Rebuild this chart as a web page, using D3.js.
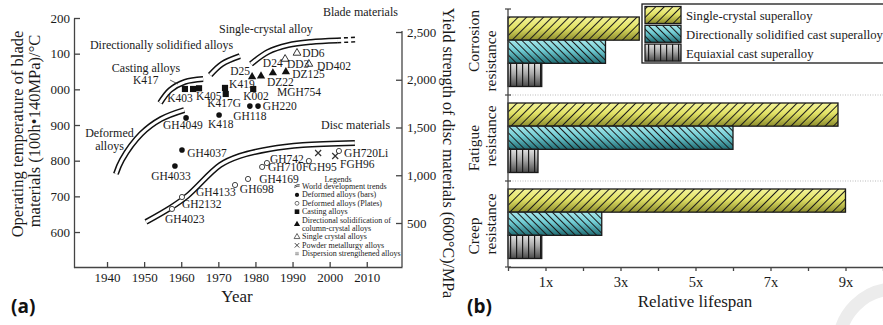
<!DOCTYPE html>
<html>
<head>
<meta charset="utf-8">
<script src="https://cdn.jsdelivr.net/npm/d3@7"></script>
<style>
  body { margin: 0; background: #fff; }
  svg { display: block; }
  svg text { font-family: "Liberation Serif", "Times New Roman", serif; }
  svg text.tag { font-family: "Open Sans", "Liberation Sans", sans-serif; }
</style>
</head>
<body>
<div id="chart"></div>
<script>
// ---------- panel (a): development of blade / disc materials ----------
const yearTicks = [1940, 1950, 1960, 1970, 1980, 1990, 2000, 2010];
const tempTicks = [600, 700, 800, 900, 1000, 1100, 1200];
const yieldTicks = [500, 1000, 1500, 2000, 2500];

// world development trends, [year, value]
const trendDeformed = [[1942.4, 763], [1944.0, 802], [1949.2, 875], [1954.6, 917], [1960.8, 942]];
const trendCasting = [[1954.3, 962], [1957.0, 998], [1961.0, 1021], [1965.9, 1029]];
const trendDirectional = [[1967.8, 1040], [1971.0, 1071], [1975.8, 1093]];
const trendSingleCrystal = [[1978.8, 1071], [1983.4, 1105], [1988.8, 1124], [1995.0, 1133], [2002.0, 1137]];
const trendSingleCrystalNext = [[2002.0, 1137], [2007.4, 1140]];
const trendDisc = [[1950.5, 511], [1957.0, 657], [1961.6, 783], [1970.5, 1107], [1975.8, 1202], [1983.9, 1275], [1992.8, 1317], [2006.8, 1338]];

// blade alloys (temperature, °C)
const castingAlloys = [[1961.0, 1001], [1963.2, 1001], [1964.8, 1003], [1971.8, 1004], [1972.0, 987], [1979.4, 1001]];
const deformedBars = [[1961.3, 920], [1970.2, 928], [1960.2, 830], [1958.3, 785], [1978.5, 953], [1980.7, 953]];
const directionalAlloys = [[1979.1, 1035], [1981.5, 1037], [1984.7, 1046], [1988.2, 1049]];
const singleCrystalAlloys = [[1991.2, 1102], [1988.0, 1085], [1994.4, 1071]];
// disc alloys (yield strength, MPa)
const deformedPlates = [[1957.5, 647], [1960.2, 772], [1974.5, 898], [1978.0, 961], [1981.8, 1087], [1983.1, 1128], [1994.4, 1149], [2002.5, 1254]];
const powderAlloys = [[1996.9, 1233], [2001.5, 1202]];

const bladeLabels = [
  ["K417", 1947.0, 1015], ["K403", 1956.2, 964], ["K405", 1964.0, 970], ["K419", 1972.9, 1004],
  ["K417G", 1967.0, 950], ["K002", 1976.7, 970], ["GH4049", 1955.1, 889], ["K418", 1967.2, 892],
  ["GH4037", 1961.6, 810], ["GH4033", 1951.9, 746], ["GH220", 1982.0, 942], ["GH118", 1974.0, 914],
  ["D25", 1973.2, 1040], ["D24", 1982.0, 1063], ["DZ22", 1983.1, 1009], ["DZ125", 1989.9, 1032],
  ["MGH754", 1985.8, 981], ["DD6", 1992.6, 1091], ["DD3", 1988.5, 1060], ["DD402", 1996.6, 1054]
];
const discLabels = [
  ["GH4023", 1955.6, 500], ["GH2132", 1960.2, 657], ["GH4133", 1964.0, 782], ["GH698", 1975.8, 814],
  ["GH4169", 1981.0, 919], ["GH742", 1983.9, 1128], ["GH710", 1983.4, 1045], ["FGH95", 1992.6, 1045],
  ["GH720Li", 2003.9, 1191], ["FGH96", 2002.8, 1076]
];
const regionLabels = [
  ["Blade materials", 1998.2, 1205], ["Single-crystal alloy", 1970.2, 1158],
  ["Directionally solidified alloys", 1935.4, 1113], ["Casting alloys", 1941.3, 1049],
  ["Deformed", 1934.1, 866], ["alloys", 1936.8, 830], ["Disc materials", 1997.7, 889]
];
const legendEntries = [
  ["trend", "World development trends"], ["bar", "Deformed alloys (bars)"],
  ["plate", "Deformed alloys (Plates)"], ["cast", "Casting alloys"],
  ["ds", "Directional solidification of", "column-crystal alloys"], ["sx", "Single crystal alloys"],
  ["pm", "Powder metallurgy alloys"], ["ods", "Dispersion strengthened alloys"]
];

// ---------- panel (b): relative lifespan ----------
const properties = ["Corrosion resistance", "Fatigue resistance", "Creep resistance"];
const alloyTypes = ["Single-crystal superalloy", "Directionally solidified cast superalloy", "Equiaxial cast superalloy"];
const singleCrystalLife = [3.5, 8.8, 9.0];
const directionalLife = [2.6, 6.0, 2.5];
const equiaxialLife = [0.9, 0.8, 0.9];
const lifeTicks = [1, 3, 5, 7, 9];

const W = 883, H = 325;
const ink = '#1a1a1a';
const serif = '"Liberation Serif", "Times New Roman", serif';

const svg = d3.select('#chart').append('svg')
  .attr('width', W)
  .attr('height', H);

const defs = svg.append('defs');

// ================= panel (a) =================
const xYear = d3.scaleLinear().domain([1931.1, 2019.5]).range([74, 402]);
const yTemp = d3.scaleLinear().domain([500, 1200]).range([267.7, 18]);
const yYield = d3.scaleLinear().domain([500, 2500]).range([223, 32]);

const gA = svg.append('g').attr('class', 'panel-a');

const styleAxis = g => {
  g.attr('font-family', serif).attr('font-size', 13);
  g.selectAll('.domain, .tick line').attr('stroke', '#444').attr('stroke-width', 1.3);
  g.selectAll('text').attr('fill', ink).attr('font-family', serif);
};

gA.append('g')
  .attr('transform', 'translate(74,0)')
  .call(d3.axisLeft(yTemp).tickValues(tempTicks).tickSizeInner(-6).tickSizeOuter(0)
    .tickPadding(4).tickFormat(d => String(d).slice(-3)))
  .call(styleAxis);

gA.append('g')
  .attr('transform', 'translate(0,267)')
  .call(d3.axisBottom(xYear).tickValues(yearTicks).tickSizeInner(-5).tickSizeOuter(0)
    .tickPadding(6).tickFormat(d3.format('d')))
  .call(styleAxis);

gA.append('g')
  .attr('transform', 'translate(402,0)')
  .call(d3.axisRight(yYield).tickValues(yieldTicks).tickSizeInner(-6).tickSizeOuter(0).tickPadding(5))
  .call(g => g.select('.domain').remove())
  .call(styleAxis);

gA.append('line')
  .attr('x1', 402).attr('x2', 402).attr('y1', 31).attr('y2', 267)
  .attr('stroke', '#444').attr('stroke-width', 1.3);

// axis titles
const title = (parent, transform, size, txt) => parent.append('text')
  .attr('transform', transform)
  .attr('text-anchor', 'middle')
  .attr('font-family', serif)
  .attr('font-size', size)
  .attr('fill', ink)
  .text(txt);

title(gA, 'translate(23,134) rotate(-90)', 16.5, 'Operating temperature of blade');
title(gA, 'translate(40,131) rotate(-90)', 16.5, 'materials (100h•140MPa)/°C');
title(gA, 'translate(443,153) rotate(90)', 16, 'Yield strength of disc materials (600°C)/MPa');
title(gA, 'translate(237,302)', 17, 'Year');

// trend bands (double lines)
const trendLine = ys => d3.line()
  .x(d => xYear(d[0]))
  .y(d => ys(d[1]))
  .curve(d3.curveCatmullRom);

const drawBand = (data, ys, dash) => {
  const p = trendLine(ys)(data);
  gA.append('path').attr('d', p).attr('fill', 'none')
    .attr('stroke', '#111').attr('stroke-width', 6)
    .attr('stroke-dasharray', dash || null);
  gA.append('path').attr('d', p).attr('fill', 'none')
    .attr('stroke', '#fff').attr('stroke-width', 3);
};

drawBand(trendDeformed, yTemp);
drawBand(trendCasting, yTemp);
drawBand(trendDirectional, yTemp);
drawBand(trendSingleCrystal, yTemp);
drawBand(trendSingleCrystalNext, yTemp, '4,3');
drawBand(trendDisc, yYield);

// K417 pointer
gA.append('line')
  .attr('x1', xYear(1957.0)).attr('y1', yTemp(1026))
  .attr('x2', xYear(1959.1)).attr('y2', yTemp(1015))
  .attr('stroke', '#333').attr('stroke-width', 0.8);

// markers
const symPath = (type, size) => d3.symbol().type(type).size(size)();

const drawSymbol = (sel, kind) => {
  if (kind === 'bar') {
    sel.append('circle').attr('r', 2.8).attr('fill', '#111');
  } else if (kind === 'plate') {
    sel.append('circle').attr('r', 2.6).attr('fill', '#fff').attr('stroke', '#444').attr('stroke-width', 1);
  } else if (kind === 'cast') {
    sel.append('path').attr('d', symPath(d3.symbolSquare, 38)).attr('fill', '#111');
  } else if (kind === 'ds') {
    sel.append('path').attr('d', symPath(d3.symbolTriangle, 30)).attr('fill', '#111');
  } else if (kind === 'sx') {
    sel.append('path').attr('d', symPath(d3.symbolTriangle, 26)).attr('fill', '#fff')
      .attr('stroke', '#333').attr('stroke-width', 1);
  } else if (kind === 'pm') {
    sel.append('path').attr('d', 'M-3,-3L3,3M-3,3L3,-3').attr('stroke', '#333').attr('stroke-width', 1.2);
  } else if (kind === 'ods') {
    sel.append('path').attr('d', 'M-1.2,-2.5L-1.2,2.5M1.2,-2.5L1.2,2.5M-2.5,-1L2.5,-1M-2.5,1L2.5,1')
      .attr('stroke', '#666').attr('stroke-width', 0.6);
  } else if (kind === 'trend') {
    sel.append('path').attr('d', 'M-3.5,-0.5Q0,-3 3.5,-2.5M-3.5,1.5Q0,-1 3.5,-0.5')
      .attr('fill', 'none').attr('stroke', '#111').attr('stroke-width', 1);
  }
};

const drawMarkers = (data, ys, kind) => {
  const sel = gA.append('g').selectAll('g').data(data).enter().append('g')
    .attr('transform', d => `translate(${xYear(d[0])},${ys(d[1])})`);
  drawSymbol(sel, kind);
};

drawMarkers(castingAlloys, yTemp, 'cast');
drawMarkers(deformedBars, yTemp, 'bar');
drawMarkers(directionalAlloys, yTemp, 'ds');
drawMarkers(singleCrystalAlloys, yTemp, 'sx');
drawMarkers(deformedPlates, yYield, 'plate');
drawMarkers(powderAlloys, yYield, 'pm');

// alloy labels
const drawLabels = (data, ys, size) => {
  gA.append('g').selectAll('text').data(data).enter().append('text')
    .attr('x', d => xYear(d[1]))
    .attr('y', d => ys(d[2]))
    .attr('font-family', serif)
    .attr('font-size', size)
    .attr('fill', ink)
    .text(d => d[0]);
};
drawLabels(bladeLabels, yTemp, 11.5);
drawLabels(discLabels, yYield, 11.5);
drawLabels(regionLabels, yTemp, 12);

// legend of panel (a)
const legA = gA.append('g').attr('transform', 'translate(297,0)');
legA.append('text')
  .attr('x', 41).attr('y', 182)
  .attr('text-anchor', 'middle')
  .attr('font-family', serif).attr('font-size', 8).attr('fill', ink)
  .text('Legends');
let rowY = 189;
legendEntries.forEach(e => {
  const lines = e.slice(1);
  const item = legA.append('g');
  const symY = rowY - 2.5 + (lines.length - 1) * 4.2;
  drawSymbol(item.append('g').attr('transform', `translate(0,${symY}) scale(0.75)`), e[0]);
  lines.forEach((t, i) => {
    item.append('text')
      .attr('x', 5).attr('y', rowY + i * 8.4)
      .attr('font-family', serif).attr('font-size', 8).attr('fill', ink)
      .text(t);
  });
  rowY += 8.4 * lines.length;
});

// ================= panel (b) =================
const xLife = d3.scaleLinear().domain([0, 10]).range([508, 883]);
const yProp = d3.scaleBand().domain(properties).range([9, 267]);
const ySeries = d3.scaleBand().domain(alloyTypes).range([8, 77.5]);
const lifeBySeries = [singleCrystalLife, directionalLife, equiaxialLife];

// gradients and hatch patterns
const gradient = (id, stops) => {
  const lg = defs.append('linearGradient').attr('id', id)
    .attr('x1', 0).attr('y1', 0).attr('x2', 0).attr('y2', 1);
  stops.forEach(s => lg.append('stop').attr('offset', s[0]).attr('stop-color', s[1]));
};
gradient('grad-sx', [[0, '#f4f49a'], [0.45, '#e2e266'], [1, '#8c8c2c']]);
gradient('grad-ds', [[0, '#a8e8ec'], [0.45, '#6fcad1'], [1, '#1f6b72']]);
gradient('grad-eq', [[0, '#e2e2e2'], [0.45, '#a8a8a8'], [1, '#4a4a4a']]);

const hatch = (id, size, angle, width) => {
  const p = defs.append('pattern').attr('id', id)
    .attr('patternUnits', 'userSpaceOnUse')
    .attr('width', size).attr('height', 20)
    .attr('patternTransform', `rotate(${angle})`);
  p.append('line').attr('x1', 0.5).attr('x2', 0.5).attr('y1', 0).attr('y2', 20)
    .attr('stroke', '#1a1a1a').attr('stroke-width', width);
};
hatch('hatch-sx', 6, 45, 1);
hatch('hatch-ds', 5, -45, 1);
hatch('hatch-eq', 6, 0, 1.4);

const seriesFill = ['grad-sx', 'grad-ds', 'grad-eq'];
const seriesHatch = ['hatch-sx', 'hatch-ds', 'hatch-eq'];

const gB = svg.append('g').attr('class', 'panel-b');

// dotted separators
gB.selectAll('.sep')
  .data(properties.slice(1))
  .enter()
  .append('line')
  .attr('class', 'sep')
  .attr('x1', 510).attr('x2', 883)
  .attr('y1', d => yProp(d)).attr('y2', d => yProp(d))
  .attr('stroke', '#bbb').attr('stroke-width', 1)
  .attr('stroke-dasharray', '1,1.5');

// bars
const barData = [];
properties.forEach((p, i) => {
  alloyTypes.forEach((s, j) => barData.push({ prop: p, series: s, j: j, value: lifeBySeries[j][i] }));
});

const drawBar = (sel, x, y, w, h, j) => {
  sel.append('rect').attr('x', x).attr('y', y).attr('width', w).attr('height', h)
    .attr('fill', `url(#${seriesFill[j]})`);
  sel.append('rect').attr('x', x).attr('y', y).attr('width', w).attr('height', h)
    .attr('fill', `url(#${seriesHatch[j]})`)
    .attr('stroke', '#1a1a1a').attr('stroke-width', 1.3);
};

gB.selectAll('.bar')
  .data(barData)
  .enter()
  .append('g')
  .attr('class', 'bar')
  .each(function (d) {
    drawBar(d3.select(this), xLife(0), yProp(d.prop) + ySeries(d.series),
      xLife(d.value) - xLife(0), ySeries.bandwidth(), d.j);
  });

// axes of (b)
gB.append('g')
  .attr('transform', 'translate(0,267)')
  .call(d3.axisBottom(xLife).tickValues(d3.range(0, 11)).tickSizeInner(4).tickSizeOuter(0)
    .tickPadding(6).tickFormat(d => lifeTicks.includes(d) ? d + 'x' : ''))
  .call(styleAxis)
  .call(g => g.attr('font-size', 14.5));

const propEdges = properties.map(p => yProp(p)).concat([yProp.range()[1]]);
gB.append('line')
  .attr('x1', 508).attr('x2', 508).attr('y1', 9).attr('y2', 267)
  .attr('stroke', '#444').attr('stroke-width', 1.3);
gB.selectAll('.ytick')
  .data(propEdges)
  .enter()
  .append('line')
  .attr('class', 'ytick')
  .attr('x1', 505).attr('x2', 511)
  .attr('y1', d => d).attr('y2', d => d)
  .attr('stroke', '#444').attr('stroke-width', 1.2);

// category labels (two lines each)
const propLineShift = [[-11, 9], [10, -2], [12, 0]];
properties.forEach((p, i) => {
  const cy = yProp(p) + yProp.bandwidth() / 2;
  p.split(' ').forEach((w, k) => {
    title(gB, `translate(${479 + k * 17},${cy + propLineShift[i][k]}) rotate(-90)`, 15.5, w);
  });
});

title(gB, 'translate(695,307)', 17, 'Relative lifespan');

// legend of (b)
const legB = gB.append('g');
legB.append('rect')
  .attr('x', 642).attr('y', 4).attr('width', 250).attr('height', 59)
  .attr('fill', '#fff').attr('stroke', '#1a1a1a').attr('stroke-width', 1.3);
alloyTypes.forEach((s, j) => {
  const y = 6.5 + j * 18.8;
  drawBar(legB.append('g'), 645, y, 36, 17, j);
  legB.append('text')
    .attr('x', 686).attr('y', y + 13.5)
    .attr('font-family', serif).attr('font-size', 12.7).attr('fill', ink)
    .text(s);
});

// panel tags
svg.selectAll('.tag')
  .data([['(a)', 11], ['(b)', 467]])
  .enter()
  .append('text')
  .attr('class', 'tag')
  .attr('x', d => d[1]).attr('y', 313)
  .attr('font-family', '"Open Sans", "Liberation Sans", sans-serif')
  .attr('font-weight', 'bold')
  .attr('font-size', 19)
  .attr('fill', '#111')
  .text(d => d[0]);

// faint decorative ring, bottom right
svg.append('circle')
  .attr('cx', 895).attr('cy', 345).attr('r', 56)
  .attr('fill', 'none').attr('stroke', '#ececec').attr('stroke-width', 13);
</script>
</body>
</html>
